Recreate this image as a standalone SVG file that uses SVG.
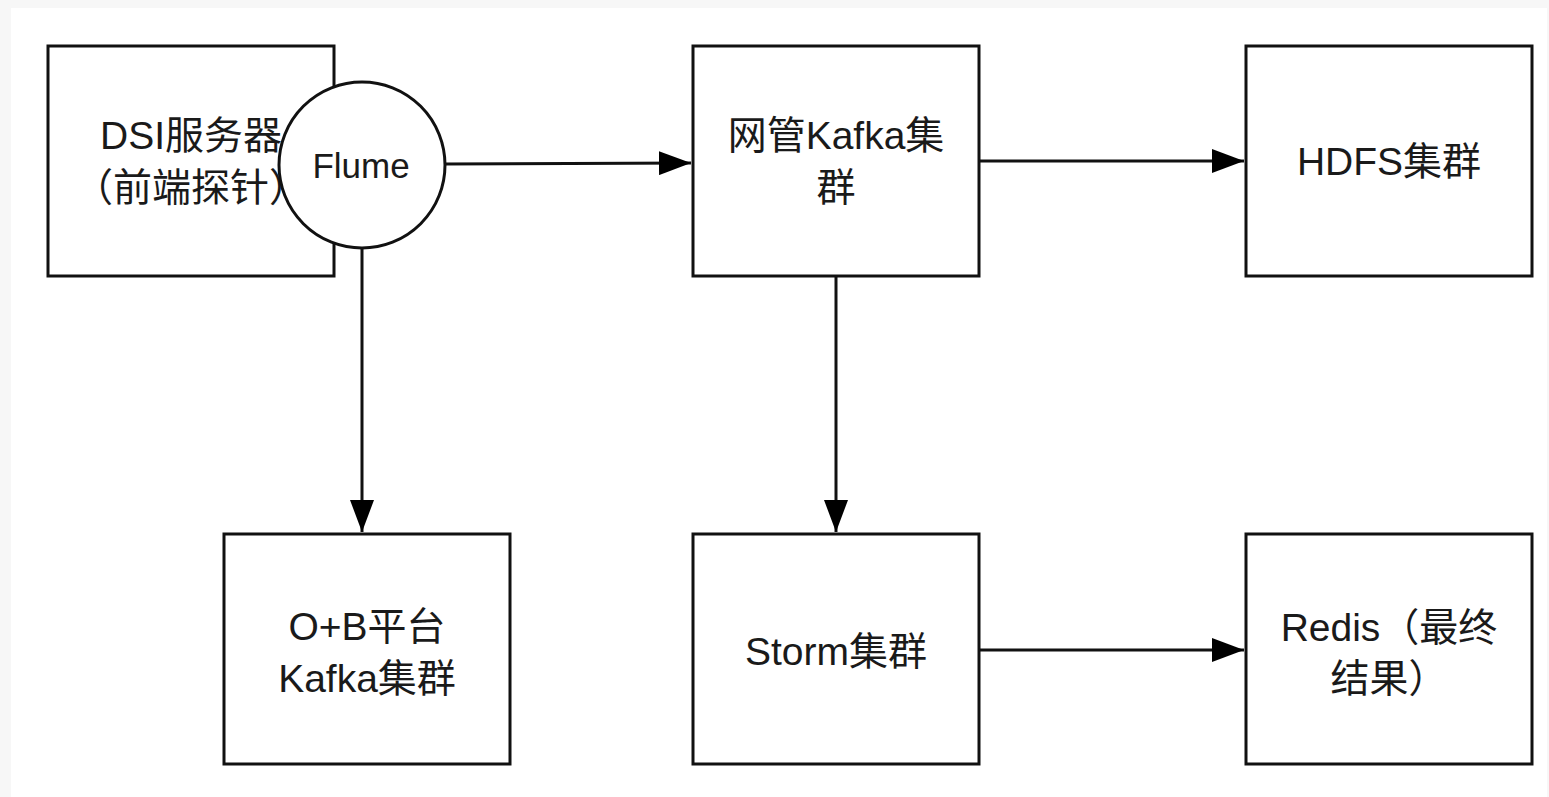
<svg xmlns="http://www.w3.org/2000/svg" width="1549" height="797" viewBox="0 0 1549 797">
<style>
.box{fill:#fff;stroke:#111;stroke-width:3}
.t{font-family:"Liberation Sans","Noto Sans CJK SC",sans-serif;font-size:39px;fill:#1a1a1a;text-anchor:middle}
.f{font-size:35px}
.c{fill:none;stroke:#111;stroke-width:3}
</style>
<defs>
<marker id="ah" markerUnits="userSpaceOnUse" markerWidth="32" markerHeight="24" refX="32" refY="12" orient="auto">
<path d="M0,0 L32,12 L0,24 Z" fill="#000"/>
</marker>
</defs>
<rect x="0" y="0" width="1549" height="797" fill="#f7f7f7"/>
<rect x="11" y="8" width="1536" height="789" fill="#fff"/>
<g id="dsi">
<rect class="box" x="48" y="46" width="286" height="230"/>
<text class="t" x="191" y="149">DSI服务器</text>
<text class="t" x="191" y="201">（前端探针）</text>
</g>
<g id="flume">
<circle class="box" cx="362" cy="165" r="83"/>
<text class="t f" x="361" y="178">Flume</text>
</g>
<g id="kafka">
<rect class="box" x="693" y="46" width="286" height="230"/>
<text class="t" x="836" y="149">网管Kafka集</text>
<text class="t" x="836" y="201">群</text>
</g>
<g id="hdfs">
<rect class="box" x="1246" y="46" width="286" height="230"/>
<text class="t" x="1389" y="175">HDFS集群</text>
</g>
<g id="ob">
<rect class="box" x="224" y="534" width="286" height="230"/>
<text class="t" x="367" y="640">O+B平台</text>
<text class="t" x="367" y="692">Kafka集群</text>
</g>
<g id="storm">
<rect class="box" x="693" y="534" width="286" height="230"/>
<text class="t" x="836" y="665">Storm集群</text>
</g>
<g id="redis">
<rect class="box" x="1246" y="534" width="286" height="230"/>
<text class="t" x="1389" y="641">Redis（最终</text>
<text class="t" x="1389" y="692">结果）</text>
</g>
<g id="connectors">
<path class="c" d="M445,164 L691,163" marker-end="url(#ah)"/>
<path class="c" d="M979,161 L1244,161" marker-end="url(#ah)"/>
<path class="c" d="M362,248 L362,532" marker-end="url(#ah)"/>
<path class="c" d="M836,276 L836,532" marker-end="url(#ah)"/>
<path class="c" d="M979,650 L1244,650" marker-end="url(#ah)"/>
</g>
</svg>
